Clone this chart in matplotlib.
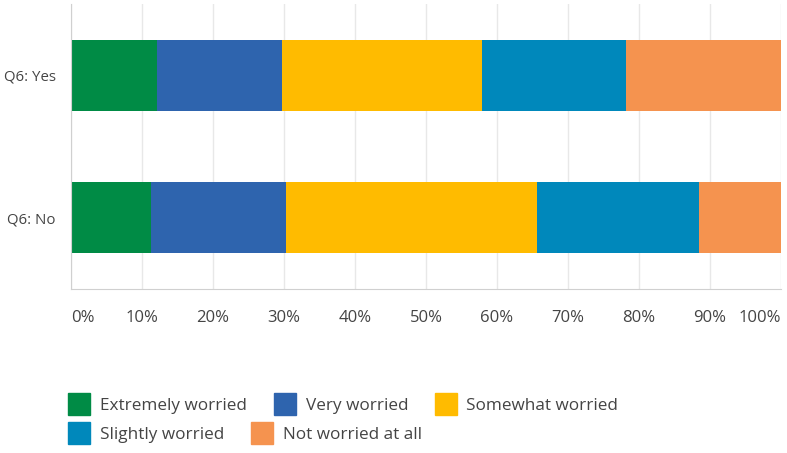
import matplotlib
matplotlib.use('Agg')
from matplotlib import pyplot as plt
from matplotlib.lines import Line2D

plt.rcParams['font.family'] = ['Open Sans', 'DejaVu Sans']

groups = ['Q6: Yes', 'Q6: No']
categories = ['Extremely worried', 'Very worried', 'Somewhat worried',
              'Slightly worried', 'Not worried at all']
# percent of respondents per group, in the order of categories
yes_values = [12.1, 17.6, 28.2, 20.2, 21.9]
no_values = [11.2, 19.1, 35.4, 22.8, 11.5]
colors = ['#008b45', '#2e64ae', '#ffbb00', '#0088bb', '#f5934f']
ticks = list(range(0, 101, 10))
tick_labels = [f'{t}%' for t in ticks]

W, H = 787, 453
fig = plt.figure(figsize=(W / 100, H / 100), dpi=100)
ax = fig.add_axes([71 / W, 1 - 289 / H, 710 / W, 285 / H])

rows = [yes_values, no_values]
for i, vals in enumerate(rows):
    left = 0
    for v, c in zip(vals, colors):
        ax.barh(i, v, left=left, height=0.5, color=c, linewidth=0)
        left += v

ax.set_xlim(0, 100)
ax.set_ylim(1.5, -0.5)
ax.set_yticks(range(len(groups)))
ax.set_yticklabels(groups, fontsize=10.8, color='#444444')
ax.set_xticks(ticks)
ax.set_xticklabels(tick_labels, fontsize=12, color='#444444')
xl = ax.get_xticklabels()
xl[0].set_horizontalalignment('left')
xl[-1].set_horizontalalignment('right')
ax.tick_params(axis='both', length=0)
ax.tick_params(axis='x', pad=15)
ax.tick_params(axis='y', pad=11)
ax.set_axisbelow(True)
ax.grid(axis='x', color='#e8e8e8', linewidth=1)
for s in ['top', 'right']:
    ax.spines[s].set_visible(False)
ax.spines['left'].set_color('#d0d0d0')
ax.spines['bottom'].set_color('#d0d0d0')

def handle(c):
    return Line2D([], [], marker='s', linestyle='none', markersize=16,
                  markerfacecolor=c, markeredgecolor=c)

common = dict(frameon=False, fontsize=12.3, handlelength=1.0,
              handletextpad=0.72, columnspacing=1.7, borderaxespad=0,
              labelcolor='#444444')
leg1 = fig.legend([handle(c) for c in colors[:3]], categories[:3], ncol=3,
                  loc='center left', bbox_to_anchor=(64 / W, 1 - 406 / H), **common)
leg2 = fig.legend([handle(c) for c in colors[3:]], categories[3:], ncol=2,
                  loc='center left', bbox_to_anchor=(64 / W, 1 - 435 / H), **common)

fig.savefig('out.png', dpi=100)
